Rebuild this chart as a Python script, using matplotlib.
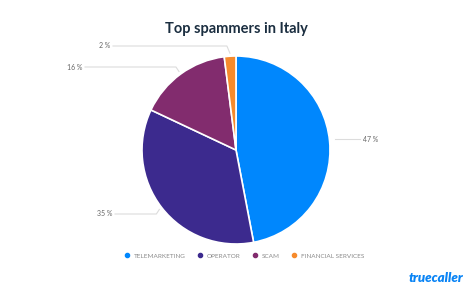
import numpy as np
import matplotlib
matplotlib.use('agg')
import matplotlib.pyplot as plt
from matplotlib.lines import Line2D

categories = ['TELEMARKETING', 'OPERATOR', 'SCAM', 'FINANCIAL SERVICES']
shares = [47, 35, 16, 2]
colors = ['#0087fd', '#3c2a8e', '#822c6e', '#f68a2c']

W, H = 473, 299
fig = plt.figure(figsize=(W / 100, H / 100), dpi=100)
ax = fig.add_axes([0, 0, 1, 1])

cx, cy, r = 236, H - 150, 94
wedges, _ = ax.pie(shares, colors=colors, startangle=90, counterclock=False,
                   center=(cx, cy), radius=r, frame=True,
                   wedgeprops=dict(edgecolor='white', linewidth=1.2))
ax.set_xlim(0, W)
ax.set_ylim(0, H)
ax.set_aspect('equal')
ax.axis('off')

# label positions (pixel rows) and leader line layout
label_y = [139, 214, 67, 46]
line_col = '#dcdcdc'
txt_col = '#666666'
for w, val, ly in zip(wedges, shares, label_y):
    mid = np.deg2rad((w.theta1 + w.theta2) / 2)
    ex = cx + (r + 3) * np.cos(mid)
    ey = cy + (r + 3) * np.sin(mid)
    y = H - ly
    if np.cos(mid) > 0.3:
        ax.plot([ex + 2, 360], [y, y], color=line_col, lw=0.8)
        ax.text(363, y, f'{val} %', ha='left', va='center', fontsize=5, color=txt_col, family='Lato')
    else:
        xs = 115 if ly > 100 else (85 if val > 5 else 113)
        ax.plot([xs, ex - 3, ex], [y, y, ey], color=line_col, lw=0.8)
        ax.text(xs - 3, y, f'{val} %', ha='right', va='center', fontsize=5, color=txt_col, family='Lato')

fig.text(236 / W, 1 - 29 / H, 'Top spammers in Italy', ha='center', va='center',
         fontsize=10.5, fontweight='bold', color='#1b2e40', family='Lato')

handles = [Line2D([], [], marker='o', ls='', color=c, markersize=3) for c in colors]
leg = ax.legend(handles, categories, loc='center', bbox_to_anchor=(245 / W, 1 - 256 / H),
                ncol=4, frameon=False, handlelength=0.5, handletextpad=0.8,
                columnspacing=2.0, prop=dict(family='Lato', size=4.6))
for t in leg.get_texts():
    t.set_color('#8a8a8a')

fig.text(436 / W, 1 - 278 / H, 'truecaller', ha='center', va='center', fontsize=9.5,
         fontweight='heavy', style='italic', color='#0a84f5', family='Lato')

fig.savefig('out.png', dpi=100)
